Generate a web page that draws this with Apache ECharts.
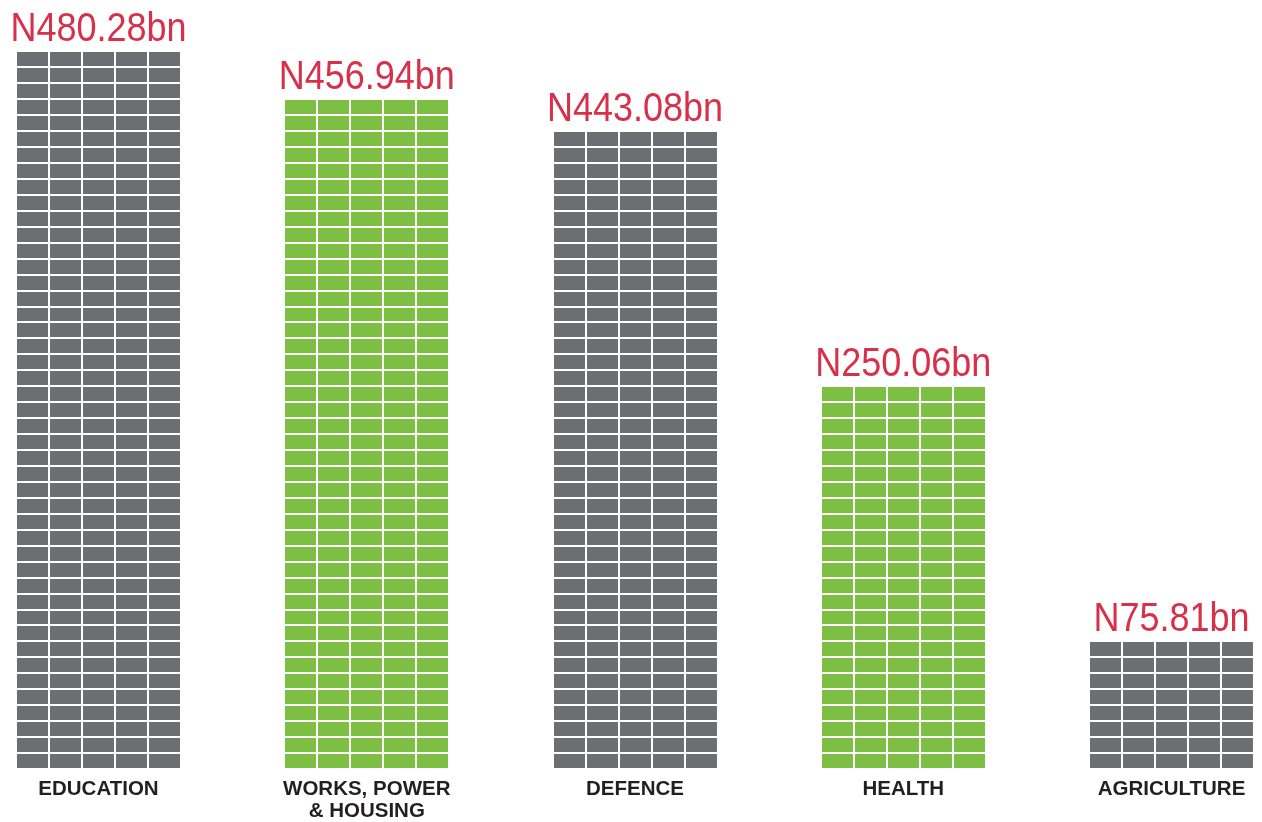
<!DOCTYPE html>
<html>
<head>
<meta charset="utf-8">
<script src="https://cdn.jsdelivr.net/npm/echarts@6/dist/echarts.min.js"></script>
<style>
  html, body { margin: 0; padding: 0; background: #ffffff; }
  #chart { width: 1262px; height: 822px; }
</style>
</head>
<body>
<div id="chart"></div>
<script>
// ---- data ----
const categories = ['EDUCATION', 'WORKS, POWER\n& HOUSING', 'DEFENCE', 'HEALTH', 'AGRICULTURE'];
const amountLabels = ['N480.28bn', 'N456.94bn', 'N443.08bn', 'N250.06bn', 'N75.81bn'];
const brickRows = [45, 42, 40, 24, 8];

// ---- styles ----
const palette = ['#6d6e71', '#7cbf42', '#6d6e71', '#7cbf42', '#6d6e71'];
const labelColor = '#d8304a';
const COLS = 5, COL_PITCH = 33, BRICK_W = 31, GAP = 2;

const chart = echarts.init(document.getElementById('chart'), null, { renderer: 'canvas' });

function renderItem(params, api) {
  const idx = params.dataIndex;
  const i = api.value(0);
  const rows = api.value(1);
  const base = api.coord([i, 0]);
  const cx = base[0], y0 = base[1];
  const pitch = y0 - api.coord([i, 1])[1];
  const brickH = pitch - GAP;
  const totalW = COLS * COL_PITCH - GAP;
  const left = Math.round(cx - totalW / 2);
  const children = [];
  for (let r = 0; r < rows; r++) {
    const yb = Math.round(y0 - r * pitch);
    const yt = Math.round(y0 - r * pitch - brickH);
    for (let c = 0; c < COLS; c++) {
      children.push({
        type: 'rect',
        shape: { x: left + c * COL_PITCH, y: yt, width: BRICK_W, height: yb - yt },
        style: { fill: palette[idx] }
      });
    }
  }
  const top = Math.round(y0 - (rows - 1) * pitch - brickH);
  children.push({
    type: 'text',
    x: cx,
    y: top - 2,
    scaleX: 0.9,
    style: {
      text: amountLabels[idx],
      textAlign: 'center',
      textVerticalAlign: 'bottom',
      fill: labelColor,
      font: 'normal 40px "Liberation Sans", Arial, sans-serif'
    }
  });
  return { type: 'group', children: children };
}

chart.setOption({
  animation: false,
  backgroundColor: '#ffffff',
  grid: { left: 98.5, right: 90.5, top: 2.5, bottom: 48, containLabel: false },
  xAxis: {
    type: 'category',
    data: categories,
    boundaryGap: false,
    axisLine: { show: false },
    axisTick: { show: false },
    splitLine: { show: false },
    axisLabel: {
      interval: 0,
      margin: 10,
      color: '#231f20',
      fontWeight: 'bold',
      fontSize: 20.5,
      lineHeight: 22,
      fontFamily: '"Liberation Sans", Arial, sans-serif'
    }
  },
  yAxis: {
    type: 'value',
    min: 0,
    max: 48,
    show: false,
    splitLine: { show: false }
  },
  series: [{
    type: 'custom',
    renderItem: renderItem,
    encode: { x: 0, y: 1 },
    data: categories.map((c, i) => [i, brickRows[i]]),
    clip: false
  }]
});
</script>
</body>
</html>
